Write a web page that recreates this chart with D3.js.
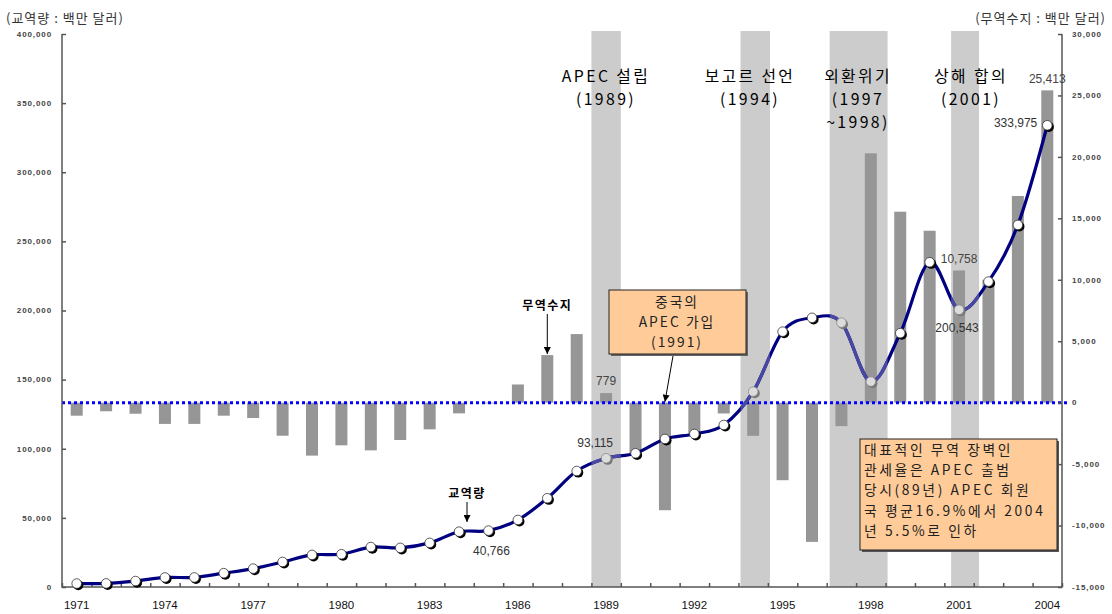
<!DOCTYPE html>
<html>
<head>
<meta charset="utf-8">
<script src="https://cdn.jsdelivr.net/npm/d3@7"></script>
<style>
  html, body { margin: 0; padding: 0; background: #fff; }
  svg { display: block; }
  .kr { font-family: "Noto Sans CJK KR", "Noto Sans", sans-serif; }
  .num { font-family: "Liberation Sans", Arial, sans-serif; }
</style>
</head>
<body>
<svg id="chart" width="1112" height="614"></svg>
<script>
// Years on the category axis
const years = [1971, 1972, 1973, 1974, 1975, 1976, 1977, 1978, 1979, 1980,
  1981, 1982, 1983, 1984, 1985, 1986, 1987, 1988, 1989, 1990,
  1991, 1992, 1993, 1994, 1995, 1996, 1997, 1998, 1999, 2000,
  2001, 2002, 2003, 2004];

// 교역량 (million USD), left axis
const tradeVolume = [2500, 2600, 4300, 6900, 6900, 10000, 13300, 18100, 23200, 23700,
  28900, 28300, 31900, 40000, 40766, 48500, 64200, 83900, 93115, 96700,
  107100, 110700, 117200, 141300, 184700, 194700, 191200, 148600, 183600, 234900,
  200543, 220900, 261900, 333975];

// 무역수지 (million USD), right axis
const tradeBalance = [-1060, -700, -900, -1730, -1730, -1060, -1250, -2690, -4310, -3470,
  -3880, -3040, -2170, -870, -60, 1480, 3870, 5580, 779, -4140,
  -8750, -2510, -880, -2700, -6310, -11330, -1910, 20290, 15540, 13990,
  10758, 10000, 16820, 25413];

// Axis ticks
const yearTicks = [1971, 1974, 1977, 1980, 1983, 1986, 1989, 1992, 1995, 1998, 2001, 2004];
const leftTicks = [0, 50000, 100000, 150000, 200000, 250000, 300000, 350000, 400000];
const rightTicks = [-15000, -10000, -5000, 0, 5000, 10000, 15000, 20000, 25000, 30000];

// Highlighted periods (in fractional years) and their titles
const periods = [
  { from: 1988.5, to: 1989.5, title: 606, lines: ["APEC 설립", "(1989)"] },
  { from: 1993.57, to: 1994.57, title: 750, lines: ["보고르 선언", "(1994)"] },
  { from: 1996.6, to: 1998.57, title: 858, lines: ["외환위기", "(1997", "~1998)"] },
  { from: 2000.73, to: 2001.68, title: 971, lines: ["상해 합의", "(2001)"] }
];

// Labelled values
const volumeLabels = [
  { year: 1985, value: 40766, dx: 3, dy: 20 },
  { year: 1989, value: 93115, dx: -11, dy: -15 },
  { year: 2001, value: 200543, dx: -2, dy: 18 },
  { year: 2004, value: 333975, dx: -10, dy: -2, anchor: "end" }
];
const balanceLabels = [
  { year: 1989, value: 779 },
  { year: 2001, value: 10758 },
  { year: 2004, value: 25413 }
];

const noteLines = ["대표적인 무역 장벽인", "관세율은 APEC 출범", "당시(89년) APEC 회원", "국 평균16.9%에서 2004", "년 5.5%로 인하"];
const chinaLines = ["중국의", "APEC 가입", "(1991)"];

const svg = d3.select("#chart");
const L = 62, R = 1062, T = 34, B = 587;

const x = d3.scaleBand().domain(years).range([L, R]);
const cx = d => x(d) + x.bandwidth() / 2;
const xYear = d3.scaleLinear().domain([1971, 2004]).range([cx(1971), cx(2004)]);
const yL = d3.scaleLinear().domain([0, 400000]).range([B, T]);
const yR = d3.scaleLinear().domain([-15000, 30000]).range([B, T]);

const fmt = d3.formatLocale({ decimal: ".", thousands: ",", grouping: [3], currency: ["", ""], minus: "-" }).format(",");

// Shaded periods
svg.append("g").selectAll("rect").data(periods).join("rect")
  .attr("x", d => xYear(d.from))
  .attr("width", d => xYear(d.to) - xYear(d.from))
  .attr("y", T - 3)
  .attr("height", B - T + 3)
  .attr("fill", "#cccccc");

// Clip for the parts of the line inside shaded periods
const defs = svg.append("defs");
defs.append("clipPath").attr("id", "periodClip")
  .selectAll("rect").data(periods).join("rect")
  .attr("x", d => xYear(d.from))
  .attr("width", d => xYear(d.to) - xYear(d.from))
  .attr("y", 0).attr("height", 614);

// Trade balance bars
const barW = 12;
svg.append("g").selectAll("rect").data(years).join("rect")
  .attr("x", d => cx(d) - barW / 2)
  .attr("width", barW)
  .attr("y", (d, i) => Math.min(yR(tradeBalance[i]), yR(0)))
  .attr("height", (d, i) => Math.abs(yR(tradeBalance[i]) - yR(0)))
  .attr("fill", "#969696");

// Zero line of the balance axis
svg.append("line")
  .attr("x1", L).attr("x2", R + 5)
  .attr("y1", yR(0)).attr("y2", yR(0))
  .attr("stroke", "#0000ff").attr("stroke-width", 3)
  .attr("stroke-dasharray", "3,3");

// Axes
const axisColor = "#555";
const gL = svg.append("g").attr("transform", `translate(${L},0)`)
  .call(d3.axisRight(yL).tickValues(leftTicks).tickSize(4).tickFormat(""));
const gR = svg.append("g").attr("transform", `translate(${R},0)`)
  .call(d3.axisLeft(yR).tickValues(rightTicks).tickSize(4).tickFormat(""));
const bandEdges = years.map(y => x(y)).concat([R]);
const gB = svg.append("g").attr("transform", `translate(0,${B})`)
  .call(d3.axisTop(d3.scaleLinear().domain([L, R]).range([L, R])).tickValues(bandEdges).tickSize(4).tickFormat(""));
[gL, gR, gB].forEach(g => {
  g.selectAll("path,line").attr("stroke", axisColor).attr("stroke-width", 1.5);
  g.select(".domain").attr("d", null);
});
svg.append("path")
  .attr("d", `M${L},${T}V${B}H${R}V${T}`)
  .attr("fill", "none").attr("stroke", axisColor).attr("stroke-width", 1.5);

// Tick labels
svg.append("g").selectAll("text").data(leftTicks).join("text")
  .attr("class", "num")
  .attr("x", L - 10).attr("y", d => yL(d)).attr("dy", "0.35em")
  .attr("text-anchor", "end").attr("font-size", 8).attr("letter-spacing", 0.9)
  .attr("font-weight", "bold").attr("fill", "#444")
  .text(d => fmt(d));
svg.append("g").selectAll("text").data(rightTicks).join("text")
  .attr("class", "num")
  .attr("x", R + 10).attr("y", d => yR(d)).attr("dy", "0.35em")
  .attr("text-anchor", "start").attr("font-size", 8).attr("letter-spacing", 0.9)
  .attr("font-weight", "bold").attr("fill", "#444")
  .text(d => fmt(d));
svg.append("g").selectAll("text").data(yearTicks).join("text")
  .attr("class", "num")
  .attr("x", d => cx(d)).attr("y", B + 22)
  .attr("text-anchor", "middle").attr("font-size", 11.5).attr("fill", "#111")
  .text(d => d);

// Trade volume line
const pts = years.map((d, i) => [cx(d), yL(tradeVolume[i])]);
const lineGen = d3.line().curve(d3.curveCardinal.tension(0));
svg.append("path").attr("d", lineGen(pts))
  .attr("fill", "none").attr("stroke", "#000080").attr("stroke-width", 3.2);
svg.append("path").attr("d", lineGen(pts)).attr("clip-path", "url(#periodClip)")
  .attr("fill", "none").attr("stroke", "#4848a2").attr("stroke-width", 3.2);

// Markers
const inPeriod = px => periods.some(p => px >= xYear(p.from) && px <= xYear(p.to));
const mk = svg.append("g").selectAll("g").data(pts).join("g")
  .attr("transform", d => `translate(${d[0]},${d[1]})`);
mk.append("circle").attr("cx", 1.6).attr("cy", 1.6).attr("r", 5)
  .attr("fill", d => inPeriod(d[0]) ? "#777" : "#000");
mk.append("circle").attr("r", 4.8)
  .attr("fill", d => inPeriod(d[0]) ? "#dcdcdc" : "#fff")
  .attr("stroke", d => inPeriod(d[0]) ? "#888" : "#333").attr("stroke-width", 0.8);

// Value labels
svg.append("g").selectAll("text").data(volumeLabels).join("text")
  .attr("class", "num")
  .attr("x", d => cx(d.year) + d.dx).attr("y", d => yL(d.value) + d.dy).attr("dy", "0.35em")
  .attr("text-anchor", d => d.anchor || "middle").attr("font-size", 12).attr("fill", "#333")
  .text(d => fmt(d.value));
svg.append("g").selectAll("text").data(balanceLabels).join("text")
  .attr("class", "num")
  .attr("x", d => cx(d.year)).attr("y", d => yR(d.value) - 12).attr("dy", "0.35em")
  .attr("text-anchor", "middle").attr("font-size", 12).attr("fill", "#444")
  .text(d => fmt(d.value));

// Period titles
periods.forEach(p => {
  p.lines.forEach((t, k) => {
    svg.append("text").attr("class", "kr")
      .attr("x", p.title).attr("y", 76 + k * 23).attr("dy", "0.36em")
      .attr("text-anchor", "middle").attr("font-size", 15.8).attr("letter-spacing", 2.4)
      .attr("fill", "#000").text(t);
  });
});

// Axis unit captions
svg.append("text").attr("class", "kr").attr("x", 6).attr("y", 18).attr("dy", "0.35em")
  .attr("font-size", 13).attr("letter-spacing", 1).attr("fill", "#333").text("(교역량 : 백만 달러)");
svg.append("text").attr("class", "kr").attr("x", 1106).attr("y", 18).attr("dy", "0.35em")
  .attr("text-anchor", "end").attr("font-size", 13).attr("letter-spacing", 1).attr("fill", "#333").text("(무역수지 : 백만 달러)");

// Arrow head
defs.append("marker").attr("id", "arrow")
  .attr("viewBox", "0 0 10 10").attr("refX", 10).attr("refY", 5)
  .attr("markerWidth", 7).attr("markerHeight", 7).attr("orient", "auto-start-reverse")
  .append("path").attr("d", "M0,0L10,5L0,10z").attr("fill", "#000");

function arrow(x1, y1, x2, y2) {
  svg.append("line").attr("x1", x1).attr("y1", y1).attr("x2", x2).attr("y2", y2)
    .attr("stroke", "#000").attr("stroke-width", 1).attr("marker-end", "url(#arrow)");
}

// Series callouts
svg.append("text").attr("class", "kr").attr("x", cx(1987)).attr("y", 306).attr("dy", "0.35em")
  .attr("text-anchor", "middle").attr("font-size", 12).attr("font-weight", "bold").attr("letter-spacing", 1.5)
  .text("무역수지");
arrow(cx(1987), 314, cx(1987), yR(tradeBalance[16]) - 1);
svg.append("text").attr("class", "kr").attr("x", 467).attr("y", 494).attr("dy", "0.35em")
  .attr("text-anchor", "middle").attr("font-size", 12).attr("font-weight", "bold").attr("letter-spacing", 1.5)
  .text("교역량");
arrow(467, 502, 467, 522);

// China accession box
svg.append("rect").attr("x", 611).attr("y", 292).attr("width", 137).attr("height", 64).attr("fill", "#666");
svg.append("rect").attr("x", 609).attr("y", 290).attr("width", 137).attr("height", 64)
  .attr("fill", "#ffcc99").attr("stroke", "#222").attr("stroke-width", 1);
chinaLines.forEach((t, k) => {
  svg.append("text").attr("class", "kr").attr("x", 677).attr("y", 302 + k * 20.2).attr("dy", "0.36em")
    .attr("text-anchor", "middle").attr("font-size", 13.8).attr("letter-spacing", 2).attr("fill", "#222").text(t);
});
arrow(673, 356, cx(1991), yR(0) - 1);

// Tariff note box
svg.append("rect").attr("x", 862).attr("y", 441).attr("width", 197).attr("height", 111).attr("fill", "#555");
svg.append("rect").attr("x", 860).attr("y", 439).attr("width", 197).attr("height", 111)
  .attr("fill", "#ffcc99").attr("stroke", "#222").attr("stroke-width", 1);
noteLines.forEach((t, k) => {
  svg.append("text").attr("class", "kr").attr("x", 864).attr("y", 450 + k * 20.2).attr("dy", "0.36em")
    .attr("font-size", 13.8).attr("letter-spacing", 2.6).attr("fill", "#222").text(t);
});
</script>
</body>
</html>
